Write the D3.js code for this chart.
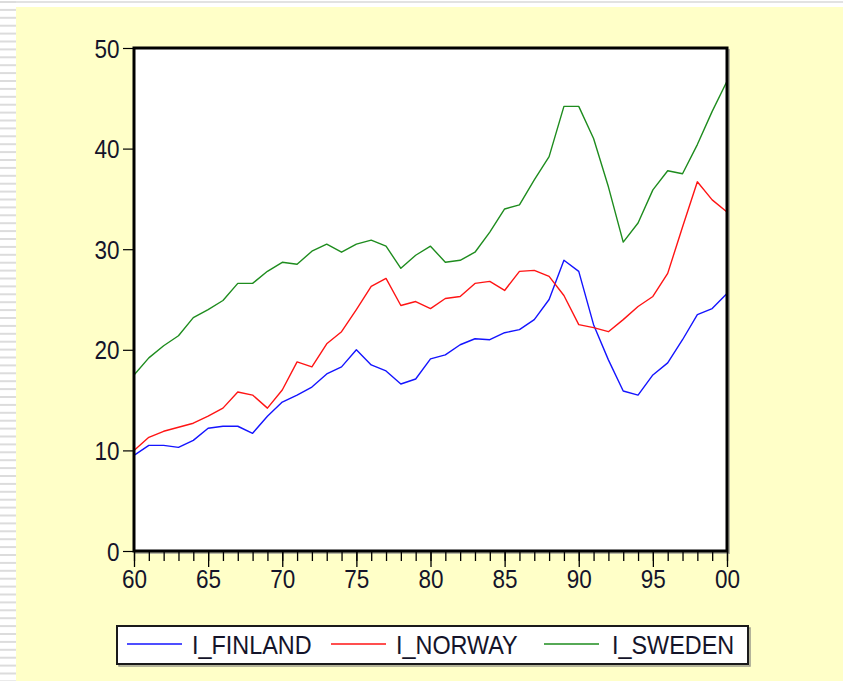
<!DOCTYPE html>
<html>
<head>
<meta charset="utf-8">
<script src="https://cdn.jsdelivr.net/npm/d3@7"></script>
<style>
  body { margin: 0; background: #fff; }
  svg { display: block; }
</style>
</head>
<body>
<svg width="843" height="681"></svg>
<script>
// data
var years = d3.range(1960, 2001);

var finland = [9.5, 10.5, 10.5, 10.3, 11.0, 12.2, 12.4, 12.4, 11.7, 13.4,
    14.8, 15.5, 16.3, 17.6, 18.3, 20.0, 18.5, 17.9, 16.6, 17.1,
    19.1, 19.5, 20.5, 21.1, 21.0, 21.7, 22.0, 23.0, 25.0, 28.9,
    27.8, 22.5, 19.0, 15.9, 15.5, 17.5, 18.7, 21.0, 23.5, 24.1, 25.6];

var norway = [10.0, 11.3, 11.9, 12.3, 12.7, 13.4, 14.2, 15.8, 15.5, 14.2,
    16.0, 18.8, 18.3, 20.6, 21.8, 24.0, 26.3, 27.1, 24.4, 24.8,
    24.1, 25.1, 25.3, 26.6, 26.8, 25.9, 27.8, 27.9, 27.3, 25.4,
    22.5, 22.2, 21.8, 23.0, 24.3, 25.3, 27.6, 32.2, 36.7, 34.9, 33.7];

var sweden = [17.5, 19.2, 20.4, 21.4, 23.2, 24.0, 24.9, 26.6, 26.6, 27.8,
    28.7, 28.5, 29.8, 30.5, 29.7, 30.5, 30.9, 30.3, 28.1, 29.4,
    30.3, 28.7, 28.9, 29.7, 31.7, 34.0, 34.4, 36.9, 39.2, 44.2,
    44.2, 41.0, 36.2, 30.7, 32.6, 35.9, 37.8, 37.5, 40.4, 43.7, 46.7];

var seriesNames = ["I_FINLAND", "I_NORWAY", "I_SWEDEN"];
var seriesColors = ["#1414ff", "#ff1414", "#1e8c1e"];
var yTicks = [0, 10, 20, 30, 40, 50];
var xTicks = [1960, 1965, 1970, 1975, 1980, 1985, 1990, 1995, 2000];
var xTickLabels = ["60", "65", "70", "75", "80", "85", "90", "95", "00"];

var series = [finland, norway, sweden];

var svg = d3.select("svg");
var W = 843, H = 681;
var plot = {left: 134, top: 48, right: 727, bottom: 551};
var textColor = "#14142a";
var font = "'Liberation Sans', Arial, sans-serif";

// slide background: striped left edge, thin top band, pale yellow field
var bg = svg.append("g");
bg.append("rect").attr("width", W).attr("height", H).attr("fill", "#fff");
bg.append("rect").attr("x", 0).attr("y", 1).attr("width", W).attr("height", 2).attr("fill", "#e2e2e2");
for (var sy = 1; sy < H; sy += 7.9) {
    bg.append("rect").attr("x", 0).attr("y", sy).attr("width", 16).attr("height", 2).attr("fill", "#dcdcdc");
}
bg.append("rect").attr("x", 16).attr("y", 7).attr("width", W - 16).attr("height", H - 7).attr("fill", "#ffffc8");

// scales
var x = d3.scaleLinear().domain([1960, 2000]).range([plot.left, plot.right]);
var y = d3.scaleLinear().domain([0, 50]).range([plot.bottom, plot.top]);

// plot area
svg.append("rect")
    .attr("x", plot.left + 2).attr("y", plot.top + 2)
    .attr("width", plot.right - plot.left).attr("height", plot.bottom - plot.top)
    .attr("fill", "none").attr("stroke", "#b4b4a0").attr("stroke-width", 2);
svg.append("rect")
    .attr("x", plot.left).attr("y", plot.top)
    .attr("width", plot.right - plot.left).attr("height", plot.bottom - plot.top)
    .attr("fill", "#fff");

// lines
var line = d3.line()
    .x(function(d, i) { return x(years[i]); })
    .y(function(d) { return y(d); });

var g = svg.append("g");
series.forEach(function(s, k) {
    g.append("path")
        .datum(s)
        .attr("d", line)
        .attr("fill", "none")
        .attr("stroke", seriesColors[k])
        .attr("stroke-width", 1.4)
        .attr("stroke-linejoin", "round");
});

// frame on top of the lines
svg.append("rect")
    .attr("x", plot.left).attr("y", plot.top)
    .attr("width", plot.right - plot.left).attr("height", plot.bottom - plot.top)
    .attr("fill", "none").attr("stroke", "#000").attr("stroke-width", 3);

// y axis
var yAxis = d3.axisLeft(y).tickValues(yTicks).tickSize(10).tickPadding(4);
var gy = svg.append("g")
    .attr("transform", "translate(" + (plot.left - 1) + ",0)")
    .call(yAxis);
gy.select(".domain").remove();
gy.selectAll(".tick line").attr("stroke", "#000").attr("stroke-width", 1.2);
gy.selectAll(".tick text")
    .attr("fill", textColor)
    .style("font-family", font)
    .style("font-size", "25px")
    .attr("dy", "0.36em")
    .attr("transform", "translate(-1,0) scale(0.9,1)");

// x axis: minor ticks every year, majors every five
var xMinor = d3.axisBottom(x).tickValues(years).tickSize(9).tickFormat("");
var gxm = svg.append("g")
    .attr("transform", "translate(0," + (plot.bottom + 1) + ")")
    .call(xMinor);
gxm.select(".domain").remove();
gxm.selectAll(".tick line").attr("stroke", "#000").attr("stroke-width", 1.3);

var xAxis = d3.axisBottom(x).tickValues(xTicks).tickSize(15).tickPadding(3)
    .tickFormat(function(d, i) { return xTickLabels[i]; });
var gx = svg.append("g")
    .attr("transform", "translate(0," + (plot.bottom + 1) + ")")
    .call(xAxis);
gx.select(".domain").remove();
gx.selectAll(".tick line").attr("stroke", "#000").attr("stroke-width", 1.3);
gx.selectAll(".tick text")
    .attr("fill", textColor)
    .style("font-family", font)
    .style("font-size", "25px")
    .attr("transform", "scale(0.9,1)");

// legend
var legend = {x: 117, y: 626, w: 631, h: 38};
svg.append("rect")
    .attr("x", legend.x + 2).attr("y", legend.y + 2)
    .attr("width", legend.w).attr("height", legend.h)
    .attr("fill", "none").attr("stroke", "#9a9a8a").attr("stroke-width", 1.5);
svg.append("rect")
    .attr("x", legend.x).attr("y", legend.y)
    .attr("width", legend.w).attr("height", legend.h)
    .attr("fill", "#fff").attr("stroke", "#1a1a1a").attr("stroke-width", 2);

var legendLineX = [127, 331, 544];
var legendTextX = [192, 396, 612];
seriesNames.forEach(function(name, k) {
    svg.append("line")
        .attr("x1", legendLineX[k]).attr("x2", legendLineX[k] + 55)
        .attr("y1", 644).attr("y2", 644)
        .attr("stroke", seriesColors[k]).attr("stroke-width", 1.4);
    svg.append("text")
        .attr("transform", "translate(" + legendTextX[k] + ",654) scale(0.9,1)")
        .attr("fill", textColor)
        .style("font-family", font)
        .style("font-size", "26px")
        .text(name);
});
</script>
</body>
</html>
